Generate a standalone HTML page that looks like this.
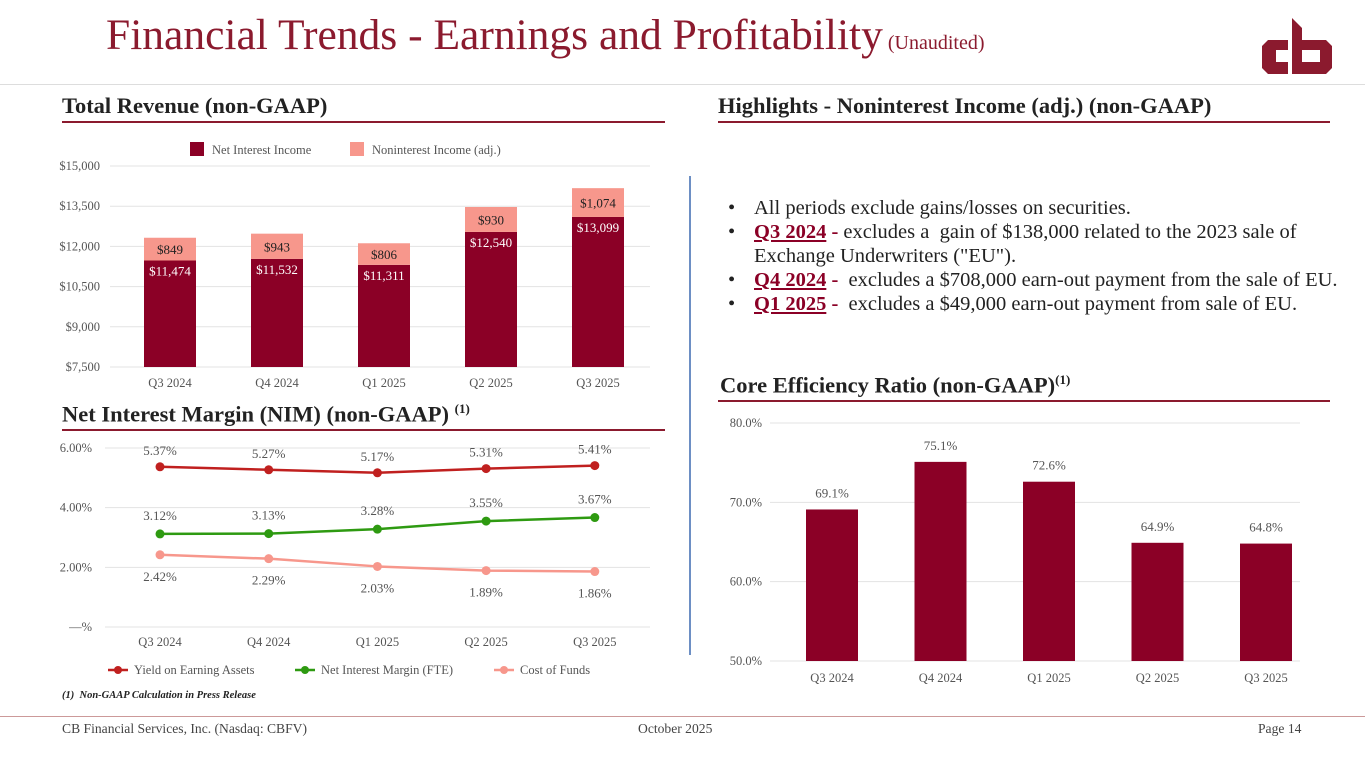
<!DOCTYPE html>
<html><head><meta charset="utf-8"><style>
body{margin:0;width:1365px;height:768px;background:#fff;position:relative;overflow:hidden;font-family:"Liberation Serif",serif;}
.abs{position:absolute;}
.h2{position:absolute;font-weight:bold;font-size:22.5px;color:#222;white-space:nowrap;}
.rule{position:absolute;height:1.5px;background:#8b1a2e;}
ul{margin:0;padding:0;list-style:none;}
li{position:relative;padding-left:26px;font-size:20.5px;color:#222;line-height:24px;}
li:before{content:"•";position:absolute;left:0px;}
li b{color:#8b0026;text-decoration:underline;}
</style></head><body>
<div class="abs" style="left:106px;top:10px;font-size:43.5px;color:#8b1a2e;white-space:nowrap;">Financial Trends - Earnings and Profitability<span style="font-size:20px;"> (Unaudited)</span></div>
<svg class="abs" style="left:1262px;top:18px" width="72" height="60" viewBox="0 0 72 60">
<path d="M6 22 H26 V32 H14 V44 H26 V56 H6 L0 50 V28 Z" fill="#8b1a2e"/>
<path d="M30 0 L40 10 V22 H64 L70 28 V50 L64 56 H30 Z M40 32 V44 H58 V32 Z" fill="#8b1a2e" fill-rule="evenodd"/>
</svg>
<div class="abs" style="left:0;top:84px;width:1365px;height:1px;background:#ddd"></div>
<div class="h2" style="left:62px;top:93px;">Total Revenue (non-GAAP)</div>
<div class="rule" style="left:62px;top:121px;width:603px"></div>
<div class="h2" style="left:718px;top:93px;">Highlights - Noninterest Income (adj.) (non-GAAP)</div>
<div class="rule" style="left:718px;top:121px;width:612px"></div>
<div class="h2" style="left:62px;top:401px;">Net Interest Margin (NIM) (non-GAAP) <sup style="font-size:13px">(1)</sup></div>
<div class="rule" style="left:62px;top:429px;width:603px"></div>
<div class="h2" style="left:720px;top:372px;">Core Efficiency Ratio (non-GAAP)<sup style="font-size:13px">(1)</sup></div>
<div class="rule" style="left:718px;top:400px;width:612px"></div>
<div class="abs" style="left:689px;top:176px;width:1.5px;height:479px;background:#6d8fc4"></div>
<div class="abs" style="left:728px;top:196px;width:625px;">
<ul>
<li>All periods exclude gains/losses on securities.</li>
<li><b>Q3 2024</b> <b style="text-decoration:none">-</b> excludes a &nbsp;gain of $138,000 related to the 2023 sale of<br>Exchange Underwriters ("EU").</li>
<li><b>Q4 2024</b> <b style="text-decoration:none">-</b> &nbsp;excludes a $708,000 earn-out payment from the sale of EU.</li>
<li><b>Q1 2025</b> <b style="text-decoration:none">-</b> &nbsp;excludes a $49,000 earn-out payment from sale of EU.</li>
</ul></div>
<svg id="c1" class="abs" style="left:0;top:0" width="1365" height="768"></svg>
<div class="abs" style="left:62px;top:690px;font-size:10.5px;font-style:italic;font-weight:bold;color:#222">(1) &nbsp;Non-GAAP Calculation in Press Release</div>
<div class="abs" style="left:0;top:716px;width:1365px;height:1px;background:#c99"></div>
<div class="abs" style="left:62px;top:721px;font-size:13.6px;color:#444">CB Financial Services, Inc. (Nasdaq: CBFV)</div>
<div class="abs" style="left:638px;top:721px;font-size:13.6px;color:#444">October 2025</div>
<div class="abs" style="left:1258px;top:721px;font-size:13.6px;color:#444">Page 14</div>
<script>
const quarters=["Q3 2024","Q4 2024","Q1 2025","Q2 2025","Q3 2025"];
const nii=[11474,11532,11311,12540,13099];
const nonii=[849,943,806,930,1074];
const revTicks=[7500,9000,10500,12000,13500,15000];
const yea=[5.37,5.27,5.17,5.31,5.41];
const nim=[3.12,3.13,3.28,3.55,3.67];
const cof=[2.42,2.29,2.03,1.89,1.86];
const nimTicks=[0,2,4,6];
const eff=[69.1,75.1,72.6,64.9,64.8];
const effTicks=[50,60,70,80];
const svg=document.getElementById('c1');
const NS='http://www.w3.org/2000/svg';
function mk(t,a,txt){const e=document.createElementNS(NS,t);for(const k in a)e.setAttribute(k,a[k]);if(txt!==undefined)e.textContent=txt;svg.appendChild(e);return e;}
const F='"Liberation Serif",serif';
// chart 1
const y1=v=>367-(v-7500)/7500*201;
const x1=i=>170+i*107;
revTicks.forEach(t=>{const g=mk('line',{x1:110,x2:650,y1:y1(t),y2:y1(t),stroke:'#e3e3e3'});
const l=mk('text',{x:100,y:y1(t)+4,'text-anchor':'end','font-size':12.5,fill:'#555','font-family':F},'$'+t.toLocaleString('en-US'));});
quarters.forEach((q,i)=>{
const b=mk('rect',{x:x1(i)-26,y:y1(nii[i]),width:52,height:y1(7500)-y1(nii[i]),fill:'#8b0026'});
const top=nii[i]+nonii[i];
const b2=mk('rect',{x:x1(i)-26,y:y1(top),width:52,height:y1(nii[i])-y1(top),fill:'#f7978c'});
const t1=mk('text',{x:x1(i),y:y1(nii[i])+15,'text-anchor':'middle','font-size':13,fill:'#fff','font-family':F},'$'+nii[i].toLocaleString('en-US'));
const t2=mk('text',{x:x1(i),y:(y1(top)+y1(nii[i]))/2+5,'text-anchor':'middle','font-size':13,fill:'#222','font-family':F},'$'+nonii[i].toLocaleString('en-US'));
const xl=mk('text',{x:x1(i),y:387,'text-anchor':'middle','font-size':12.5,fill:'#555','font-family':F},q);});
let lg=mk('rect',{x:190,y:142,width:14,height:14,fill:'#8b0026'});
lg=mk('text',{x:212,y:154,'font-size':12.5,fill:'#555','font-family':F},'Net Interest Income');
lg=mk('rect',{x:350,y:142,width:14,height:14,fill:'#f7978c'});
lg=mk('text',{x:372,y:154,'font-size':12.5,fill:'#555','font-family':F},'Noninterest Income (adj.)');
// chart 2
const y2=v=>627-v/6*179;
const x2=i=>160+i*108.7;
nimTicks.forEach(t=>{const g=mk('line',{x1:105,x2:650,y1:y2(t),y2:y2(t),stroke:'#e3e3e3'});
const l=mk('text',{x:92,y:y2(t)+4,'text-anchor':'end','font-size':12.5,fill:'#555','font-family':F},t===0?'—%':t.toFixed(2)+'%');});
const series=[[yea,'#c0201f','yield-line',-12],[nim,'#2e9a11','nim-line',-14],[cof,'#f7978c','cof-line',26]];
series.forEach(([d,c,n,off])=>{
const p=mk('polyline',{points:d.map((v,i)=>x2(i)+','+y2(v)).join(' '),fill:'none',stroke:c,'stroke-width':2.5});
d.forEach((v,i)=>{const m=mk('circle',{cx:x2(i),cy:y2(v),r:4.5,fill:c});
const t=mk('text',{x:x2(i),y:y2(v)+off,'text-anchor':'middle','font-size':13,fill:'#555','font-family':F},v.toFixed(2)+'%');});});
quarters.forEach((q,i)=>{const xl=mk('text',{x:x2(i),y:646,'text-anchor':'middle','font-size':12.5,fill:'#555','font-family':F},q);});
[['Yield on Earning Assets','#c0201f',108],['Net Interest Margin (FTE)','#2e9a11',295],['Cost of Funds','#f7978c',494]].forEach(([t,c,x])=>{
let e=mk('line',{x1:x,x2:x+20,y1:670,y2:670,stroke:c,'stroke-width':2.5});
e=mk('circle',{cx:x+10,cy:670,r:4,fill:c});
e=mk('text',{x:x+26,y:674,'font-size':12.5,fill:'#555','font-family':F},t);});
// chart 3
const y3=v=>661-(v-50)/30*238;
const x3=i=>832+i*108.5;
effTicks.forEach(t=>{const g=mk('line',{x1:770,x2:1300,y1:y3(t),y2:y3(t),stroke:'#e3e3e3'});
const l=mk('text',{x:762,y:y3(t)+4,'text-anchor':'end','font-size':12.5,fill:'#555','font-family':F},t.toFixed(1)+'%');});
quarters.forEach((q,i)=>{
const b=mk('rect',{x:x3(i)-26,y:y3(eff[i]),width:52,height:y3(50)-y3(eff[i]),fill:'#8b0026'});
const t=mk('text',{x:x3(i),y:y3(eff[i])-12,'text-anchor':'middle','font-size':13,fill:'#555','font-family':F},eff[i].toFixed(1)+'%');
const xl=mk('text',{x:x3(i),y:682,'text-anchor':'middle','font-size':12.5,fill:'#555','font-family':F},q);});
</script>
</body></html>
